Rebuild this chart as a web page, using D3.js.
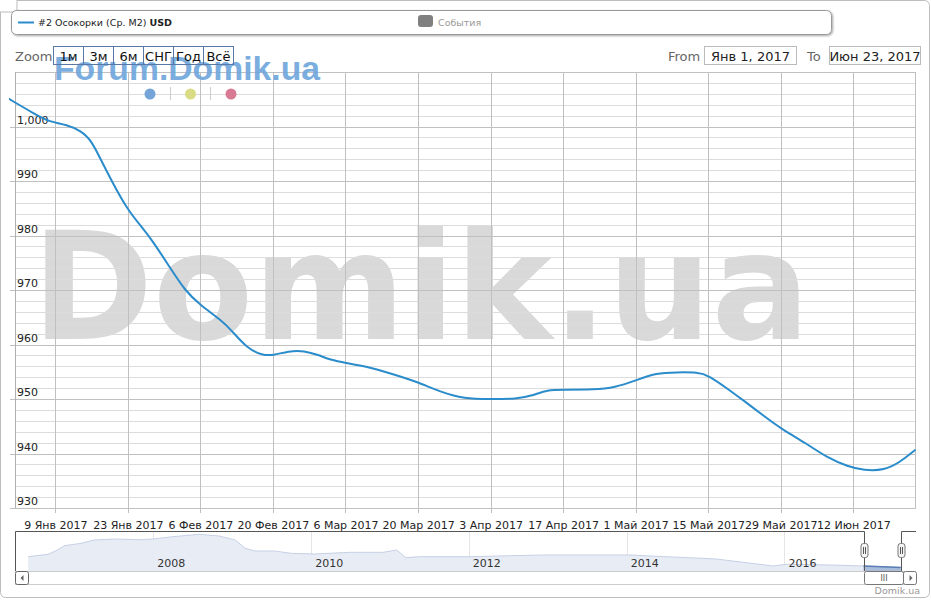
<!DOCTYPE html>
<html><head><meta charset="utf-8">
<script src="https://cdn.jsdelivr.net/npm/d3@7/dist/d3.min.js"></script>
<style>
html,body{margin:0;padding:0;background:#fff;}
svg{display:block;font-family:"DejaVu Sans",sans-serif;}
</style></head>
<body>
<script>
// ---------- DATA ----------
const seriesName = "#2 Осокорки (Ср. M2) ";
const seriesUnit = "USD";
const mainDates = ["2016-12-31","2017-01-05","2017-01-08","2017-01-11","2017-01-14","2017-01-16","2017-01-18","2017-01-20","2017-01-23","2017-01-26","2017-01-28","2017-01-31","2017-02-03","2017-02-06","2017-02-10","2017-02-12","2017-02-15","2017-02-18","2017-02-20","2017-02-23","2017-02-26","2017-03-01","2017-03-03","2017-03-06","2017-03-10","2017-03-15","2017-03-20","2017-03-24","2017-03-29","2017-04-03","2017-04-08","2017-04-11","2017-04-14","2017-04-17","2017-04-23","2017-04-27","2017-05-01","2017-05-05","2017-05-09","2017-05-13","2017-05-15","2017-05-19","2017-05-22","2017-05-26","2017-05-29","2017-06-03","2017-06-07","2017-06-11","2017-06-14","2017-06-18","2017-06-21","2017-06-24"];
const mainValues = [1005.1,1002.3,1000.8,1000.4,999.2,997.4,993.5,989.8,984.6,981.2,978.7,974.3,969.9,967.2,964.5,962.6,959.3,958.0,958.0,958.8,958.9,958.0,957.2,956.6,956.0,954.6,953.1,951.4,950.0,950.0,950.0,950.6,951.7,951.7,951.7,952.1,953.4,954.8,954.9,954.9,954.4,951.7,949.6,946.7,944.6,941.8,939.2,937.6,936.9,936.9,938.4,940.7];
const yTickValues = [930,940,950,960,970,980,990,1000];
const xTickDates = ["2017-01-09","2017-01-23","2017-02-06","2017-02-20","2017-03-06","2017-03-20","2017-04-03","2017-04-17","2017-05-01","2017-05-15","2017-05-29","2017-06-12"];
const xTickLabels = ["9 Янв 2017","23 Янв 2017","6 Фев 2017","20 Фев 2017","6 Мар 2017","20 Мар 2017","3 Апр 2017","17 Апр 2017","1 Май 2017","15 Май 2017","29 Май 2017","12 Июн 2017"];
const navDates = ["2006-06-01","2006-09-01","2006-10-15","2006-11-15","2007-02-01","2007-04-01","2007-07-01","2007-11-01","2008-01-01","2008-04-01","2008-08-01","2008-11-01","2009-01-15","2009-03-01","2009-04-15","2009-07-15","2009-10-01","2010-01-15","2010-07-01","2010-12-01","2011-02-01","2011-03-15","2011-05-15","2012-01-01","2012-12-01","2013-10-01","2014-01-15","2014-07-01","2015-02-20","2015-11-10","2016-01-10","2016-08-01","2017-01-01","2017-06-23"];
const navValues = [1381,1479,1656,1832,1930,2065,2106,2078,2106,2201,2299,2229,2065,1725,1615,1615,1520,1492,1561,1561,1656,1340,1381,1381,1451,1451,1451,1381,1287,1000,1070,1041,1000,941];
const navYearTicks = ["2008","2010","2012","2014","2016"];
const zoomButtons = ["1м","3м","6м","СНГ","Год","Всё"];
const rangeFrom = "Янв 1, 2017";
const rangeTo = "Июн 23, 2017";
const legendEvents = "События";
const watermarkBig = "Domik.ua";
const watermarkSmall = "Forum.Domik.ua";
const creditText = "Domik.ua";
const dotColors = ["#74a4d8","#d9dc84","#d97a95"];

// ---------- SETUP ----------
const W = 931, H = 600;
const parse = d3.utcParse("%Y-%m-%d");
const svg = d3.select("body").append("svg").attr("width", W).attr("height", H);

const plot = {left: 15, right: 916, top: 72, bottom: 508};
const x = d3.scaleUtc().domain([parse("2017-01-01"), parse("2017-06-24")]).range([13.84, 915.5]);
const y = d3.scaleLinear().domain([930, 1010]).range([plot.bottom, plot.top]);

// outer frame
svg.append("rect").attr("x",0.5).attr("y",0.5).attr("width",929).attr("height",597).attr("rx",5)
  .attr("fill","#fff").attr("stroke","#bdbdbd");
svg.append("rect").attr("x",-5).attr("y",-5).attr("width",22).attr("height",17).attr("rx",3)
  .attr("fill","#fff").attr("stroke","#bbb");

// legend box
const defs = svg.append("defs");
const f = defs.append("filter").attr("id","sh").attr("x","-5%").attr("y","-30%").attr("width","110%").attr("height","180%");
f.append("feDropShadow").attr("dx",1).attr("dy",1).attr("stdDeviation",1).attr("flood-color","#000").attr("flood-opacity",0.35);
svg.append("rect").attr("x",11.5).attr("y",10.5).attr("width",820).attr("height",24).attr("rx",5)
  .attr("fill","#fff").attr("stroke","#999").attr("filter","url(#sh)");
svg.append("line").attr("x1",18).attr("x2",34).attr("y1",22.5).attr("y2",22.5).attr("stroke","#2b8ccb").attr("stroke-width",2);
const lt = svg.append("text").attr("x",38).attr("y",26).attr("font-size",9.5).attr("fill","#222");
lt.append("tspan").text(seriesName);
lt.append("tspan").attr("font-weight","bold").text(seriesUnit);
svg.append("rect").attr("x",418).attr("y",15).attr("width",15).attr("height",12).attr("rx",3).attr("fill","#808080");
svg.append("text").attr("x",438).attr("y",26).attr("font-size",9.5).attr("fill","#999").text(legendEvents);

// big watermark
svg.append("text").attr("x",32).attr("y",339).attr("font-size",150).attr("font-weight","bold")
  .attr("fill","#d9d9d9").attr("textLength",778).attr("lengthAdjust","spacingAndGlyphs").text(watermarkBig);

// grid
const g = svg.append("g");
const minor = d3.range(930, 1011, 2).filter(v => v % 10 !== 0);
g.selectAll("line.minor").data(minor).join("line")
  .attr("x1",plot.left).attr("x2",plot.right).attr("y1",d=>Math.round(y(d))+0.5).attr("y2",d=>Math.round(y(d))+0.5)
  .attr("stroke","#dcdcdc");
g.selectAll("line.major").data(yTickValues.concat([1010])).join("line")
  .attr("x1",d=> d===1010 ? plot.left : 10).attr("x2",plot.right).attr("y1",d=>Math.round(y(d))+0.5).attr("y2",d=>Math.round(y(d))+0.5)
  .attr("stroke","#c0c0c0");
const xt = xTickDates.map(parse);
g.selectAll("line.vx").data(xt).join("line")
  .attr("x1",d=>Math.round(x(d))+0.5).attr("x2",d=>Math.round(x(d))+0.5).attr("y1",plot.top).attr("y2",plot.bottom+5)
  .attr("stroke","#c0c0c0");
g.append("line").attr("x1",plot.left+0.5).attr("x2",plot.left+0.5).attr("y1",plot.top).attr("y2",plot.bottom).attr("stroke","#b0b0b0");
g.append("line").attr("x1",plot.right-0.5).attr("x2",plot.right-0.5).attr("y1",plot.top).attr("y2",plot.bottom).attr("stroke","#c0c0c0");

// y labels
svg.selectAll("text.yl").data(yTickValues).join("text")
  .attr("x",17).attr("y",d=>y(d)-3).attr("font-size",11).attr("fill","#222")
  .text(d=>d3.format(",")(d));

// x axis
const xAxis = d3.axisBottom(x).tickValues(xt).tickSize(0).tickFormat((d,i)=>xTickLabels[i]);
const xg = svg.append("g").attr("transform",`translate(0,${plot.bottom+10})`).call(xAxis);
xg.select(".domain").remove();
xg.selectAll("text").attr("font-size",11).attr("fill","#222").attr("font-family","DejaVu Sans");

// small watermark + dots
svg.append("text").attr("x",54).attr("y",80).attr("font-size",32.5).attr("font-weight","bold")
  .attr("font-family","Liberation Sans, Arial, sans-serif").attr("fill","#6ea6dc").attr("fill-opacity",0.92)
  .attr("textLength",266).attr("lengthAdjust","spacingAndGlyphs").text(watermarkSmall);
svg.selectAll("circle.dot").data(dotColors).join("circle")
  .attr("cx",(d,i)=>150+i*40.5).attr("cy",94).attr("r",5.5).attr("fill",d=>d);
[170.5,210.5].forEach(xx=>svg.append("line").attr("x1",xx).attr("x2",xx).attr("y1",87).attr("y2",100).attr("stroke","#ccc"));

// series line
defs.append("clipPath").attr("id","pc").append("rect").attr("x",9).attr("y",plot.top-5).attr("width",plot.right-9).attr("height",plot.bottom-plot.top+5);
const mainData = mainDates.map((d,i)=>({d:parse(d), v:mainValues[i]}));
svg.append("path").datum(mainData).attr("clip-path","url(#pc)")
  .attr("d", d3.line().x(p=>x(p.d)).y(p=>y(p.v)).curve(d3.curveBasis))
  .attr("fill","none").attr("stroke","#2b8ccb").attr("stroke-width",2);

// zoom buttons
svg.append("text").attr("x",15).attr("y",61).attr("font-size",13).attr("fill","#666").text("Zoom");
zoomButtons.forEach((b,i)=>{
  const bx = 53.5 + i*30;
  svg.append("rect").attr("x",bx).attr("y",46.5).attr("width",30).attr("height",18).attr("fill","none").attr("stroke","#5a78a6");
  svg.append("text").attr("x",bx+15).attr("y",60.5).attr("text-anchor","middle").attr("font-size",13).attr("fill","#111").text(b);
});
// range inputs
svg.append("text").attr("x",668).attr("y",61).attr("font-size",13).attr("fill","#666").text("From");
svg.append("rect").attr("x",704.5).attr("y",46.5).attr("width",92).attr("height",18).attr("fill","#fff").attr("stroke","#bbb");
svg.append("text").attr("x",750.5).attr("y",61).attr("text-anchor","middle").attr("font-size",13).attr("fill","#222").text(rangeFrom);
svg.append("text").attr("x",807).attr("y",61).attr("font-size",13).attr("fill","#666").text("To");
svg.append("rect").attr("x",829.5).attr("y",46.5).attr("width",91).attr("height",18).attr("fill","#fff").attr("stroke","#bbb");
svg.append("text").attr("x",875).attr("y",61).attr("text-anchor","middle").attr("font-size",13).attr("fill","#222").text(rangeTo);

// ---------- NAVIGATOR ----------
const nav = {left:15, right:916, top:531, bottom:571};
const nx = d3.scaleUtc().domain([parse("2006-04-01"), parse("2017-09-01")]).range([nav.left, nav.right]);
const ny = d3.scaleLinear().domain([795, 2435]).range([nav.bottom, nav.top]);
const navData = navDates.map((d,i)=>({d:parse(d), v:navValues[i]}));
const yearDates = navYearTicks.map(t=>parse(t+"-01-01"));
svg.selectAll("line.ng").data(yearDates).join("line")
  .attr("x1",d=>Math.round(nx(d))+0.5).attr("x2",d=>Math.round(nx(d))+0.5).attr("y1",nav.top).attr("y2",nav.bottom)
  .attr("stroke","#e6e6e6");
const area = d3.area().x(p=>nx(p.d)).y0(nav.bottom).y1(p=>ny(p.v));
const nline = d3.line().x(p=>nx(p.d)).y(p=>ny(p.v));
svg.append("path").datum(navData).attr("d",area).attr("fill","#e7ebf4").attr("fill-opacity",0.95);
svg.append("path").datum(navData).attr("d",nline).attr("fill","none").attr("stroke","#c6d1e5").attr("stroke-width",1);
svg.selectAll("text.ny").data(yearDates).join("text")
  .attr("x",d=>nx(d)+4).attr("y",567).attr("font-size",11).attr("fill","#333").text((d,i)=>navYearTicks[i]);
const selL = nx(parse("2017-01-01")), selR = nx(parse("2017-06-23"));
defs.append("clipPath").attr("id","sel").append("rect").attr("x",selL).attr("y",nav.top).attr("width",selR-selL).attr("height",nav.bottom-nav.top);
svg.append("path").datum(navData).attr("d",area).attr("fill","#a9bcd9").attr("clip-path","url(#sel)");
svg.append("path").datum(navData).attr("d",nline).attr("fill","none").attr("stroke","#5a7db3").attr("stroke-width",1.5).attr("clip-path","url(#sel)");
svg.append("line").attr("x1",nav.left).attr("x2",nav.right).attr("y1",nav.bottom+0.5).attr("y2",nav.bottom+0.5).attr("stroke","#ccc");
const sl = Math.round(selL)+0.5, sr = Math.round(selR)+0.5;
svg.append("path").attr("d",`M${nav.left+0.5},${nav.bottom} V${nav.top+0.5} H${sl} V${nav.bottom} M${sr},${nav.bottom} V${nav.top+0.5} H${nav.right}`)
  .attr("fill","none").attr("stroke","#555");
[sl, sr].forEach(hx=>{
  svg.append("rect").attr("x",hx-3.5).attr("y",543.5).attr("width",7).attr("height",14).attr("rx",2.5).attr("fill","#f4f4f4").attr("stroke","#777");
  svg.append("line").attr("x1",hx-1).attr("x2",hx-1).attr("y1",547).attr("y2",554).attr("stroke","#555");
  svg.append("line").attr("x1",hx+1).attr("x2",hx+1).attr("y1",547).attr("y2",554).attr("stroke","#555");
});
// scrollbar
svg.append("rect").attr("x",15.5).attr("y",571.5).attr("width",900).attr("height",13).attr("fill","#fff").attr("stroke","#ccc");
svg.append("rect").attr("x",15.5).attr("y",571.5).attr("width",13).attr("height",13).attr("rx",2).attr("fill","#fff").attr("stroke","#666");
svg.append("path").attr("d","M23.5,575 L20.5,578 L23.5,581 Z").attr("fill","#666");
svg.append("rect").attr("x",sl).attr("y",571.5).attr("width",sr+2-sl).attr("height",13).attr("rx",2).attr("fill","#fff").attr("stroke","#777");
svg.append("text").attr("x",(sl+sr)/2+1).attr("y",581).attr("text-anchor","middle").attr("font-size",8).attr("fill","#555").text("III");
svg.append("rect").attr("x",sr+2).attr("y",571.5).attr("width",13).attr("height",13).attr("rx",2).attr("fill","#fff").attr("stroke","#777");
svg.append("path").attr("d",`M${sr+8},575 L${sr+11},578 L${sr+8},581 Z`).attr("fill","#666");
// credit
svg.append("text").attr("x",920).attr("y",594).attr("text-anchor","end").attr("font-size",9.5).attr("fill","#999").text(creditText);
</script>
</body></html>
